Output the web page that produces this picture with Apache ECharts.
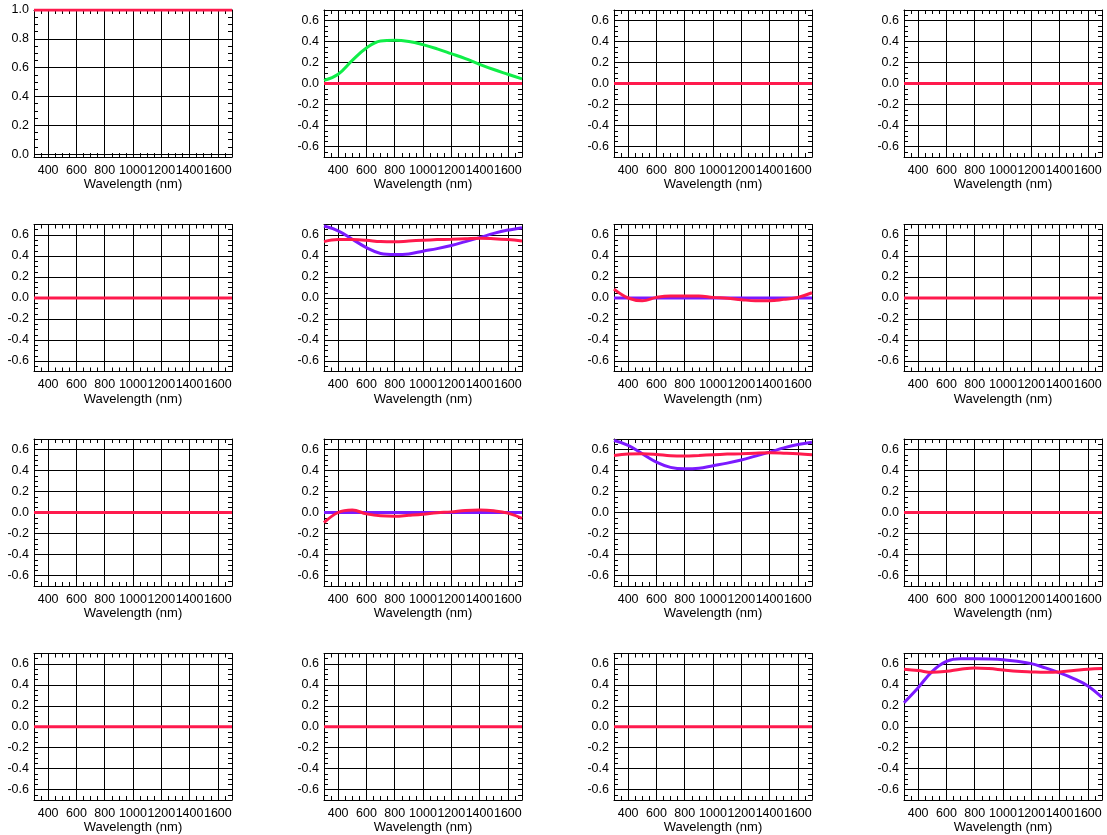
<!DOCTYPE html>
<html><head><meta charset="utf-8">
<script src="https://cdn.jsdelivr.net/npm/echarts@6/dist/echarts.min.js"></script>
<style>html,body{margin:0;padding:0;background:#fff}#c{width:1107px;height:835px}</style>
</head><body><div id="c"></div><script>
// ---- data ----
const wavelength = [300, 400, 500, 600, 700, 800, 900, 1000, 1100, 1200, 1300, 1400, 1500, 1600, 1700];
const xTickLabels = [400, 600, 800, 1000, 1200, 1400, 1600];
const yTickLabels = [-0.6, -0.4, -0.2, 0.0, 0.2, 0.4, 0.6];
const yTickLabelsFirst = [0.0, 0.2, 0.4, 0.6, 0.8, 1.0];

const oneLine  = [1, 1, 1, 1, 1, 1, 1, 1, 1, 1, 1, 1, 1, 1, 1];
const zeroLine = [0, 0, 0, 0, 0, 0, 0, 0, 0, 0, 0, 0, 0, 0, 0];
const green12  = [0.03, 0.088, 0.22, 0.338, 0.405, 0.412, 0.40, 0.37, 0.33, 0.284, 0.237, 0.183, 0.133, 0.088, 0.044];
const purple22 = [0.685, 0.64, 0.56, 0.48, 0.424, 0.414, 0.42, 0.446, 0.47, 0.50, 0.537, 0.575, 0.615, 0.647, 0.67];
const red22    = [0.537, 0.556, 0.556, 0.55, 0.537, 0.535, 0.543, 0.55, 0.556, 0.56, 0.565, 0.57, 0.565, 0.556, 0.543];
const red23    = [0.084, 0.0, -0.026, 0.006, 0.02, 0.02, 0.02, 0.006, -0.003, -0.016, -0.026, -0.026, -0.013, 0.006, 0.05];
const red32    = [-0.097, 0.0, 0.023, -0.013, -0.032, -0.035, -0.026, -0.016, -0.003, 0.006, 0.02, 0.023, 0.016, -0.006, -0.055];
const purple33 = [0.685, 0.64, 0.56, 0.48, 0.43, 0.416, 0.422, 0.446, 0.47, 0.50, 0.537, 0.575, 0.615, 0.647, 0.67];
const red33    = [0.543, 0.556, 0.56, 0.553, 0.54, 0.537, 0.543, 0.55, 0.556, 0.56, 0.565, 0.568, 0.565, 0.56, 0.55];
const purple44 = [0.23, 0.373, 0.53, 0.625, 0.65, 0.65, 0.647, 0.64, 0.625, 0.603, 0.562, 0.515, 0.46, 0.39, 0.28];
const red44    = [0.55, 0.537, 0.52, 0.53, 0.55, 0.562, 0.556, 0.543, 0.53, 0.524, 0.52, 0.524, 0.537, 0.55, 0.556];

const RED = '#ff1a4d', GREEN = '#10ee48', PURPLE = '#7b1aff';

// panels row by row: list of [values, colour]
const panels = [
  [[oneLine, RED]], [[green12, GREEN], [zeroLine, RED]], [[zeroLine, RED]], [[zeroLine, RED]],
  [[zeroLine, RED]], [[purple22, PURPLE], [red22, RED]], [[zeroLine, PURPLE], [red23, RED]], [[zeroLine, RED]],
  [[zeroLine, RED]], [[zeroLine, PURPLE], [red32, RED]], [[purple33, PURPLE], [red33, RED]], [[zeroLine, RED]],
  [[zeroLine, RED]], [[zeroLine, RED]], [[zeroLine, RED]], [[purple44, PURPLE], [red44, RED]]
];

// ---- layout ----
const colLeft = [34, 324, 614, 904];
const rowTop = [10, 224.5, 439, 653.5];
const W = 198, H = 147;
const FONT = 'Liberation Sans';

const grid = [], xAxis = [], yAxis = [], series = [];
const black = {color: '#000', width: 1};

panels.forEach((list, i) => {
  const r = Math.floor(i / 4), c = i % 4;
  grid.push({left: colLeft[c], top: rowTop[r], width: W, height: H});
  const first = i === 0;
  const yMin = first ? -0.02 : -0.7, yMax = first ? 1.0 : 0.7;
  const ySplit = first ? 5 : 7;
  const common = {
    gridIndex: i, type: 'value',
    axisLine: {show: true, onZero: false, lineStyle: black},
    axisTick: {show: true, inside: true, length: 4, lineStyle: black},
    minorTick: {show: true, splitNumber: 4, length: 4, lineStyle: black},
    minorSplitLine: {show: false}
  };
  xAxis.push(Object.assign({}, common, {
    min: 300, max: 1700, splitNumber: 7, position: 'bottom',
    axisLabel: {color: '#000', fontSize: 12.5, fontFamily: FONT, margin: 7,
      customValues: xTickLabels, formatter: v => String(v)},
    splitLine: {show: true, lineStyle: black},
    name: 'Wavelength (nm)', nameLocation: 'middle', nameGap: 21,
    nameTextStyle: {color: '#000', fontSize: 13, fontFamily: FONT}
  }));
  xAxis.push(Object.assign({}, common, {
    min: 300, max: 1700, splitNumber: 7, position: 'top',
    axisLabel: {show: false}, splitLine: {show: false}
  }));
  yAxis.push(Object.assign({}, common, {
    min: yMin, max: yMax, splitNumber: ySplit, position: 'left',
    axisLabel: {color: '#000', fontSize: 12.5, fontFamily: FONT, margin: 5,
      customValues: first ? yTickLabelsFirst : yTickLabels,
      formatter: v => Number(v).toFixed(1)},
    splitLine: {show: true, lineStyle: black}
  }));
  yAxis.push(Object.assign({}, common, {
    min: yMin, max: yMax, splitNumber: ySplit, position: 'right',
    axisLabel: {show: false}, splitLine: {show: false}
  }));
  list.forEach(([vals, col]) => {
    series.push({
      type: 'line', xAxisIndex: 2 * i, yAxisIndex: 2 * i,
      data: wavelength.map((w, k) => [w, vals[k]]),
      showSymbol: false, smooth: 0.4, silent: true,
      lineStyle: {color: col, width: 3}, itemStyle: {color: col}
    });
  });
});

const chart = echarts.init(document.getElementById('c'), null, {renderer: 'canvas'});
chart.setOption({animation: false, backgroundColor: '#fff', grid, xAxis, yAxis, series});
</script></body></html>
